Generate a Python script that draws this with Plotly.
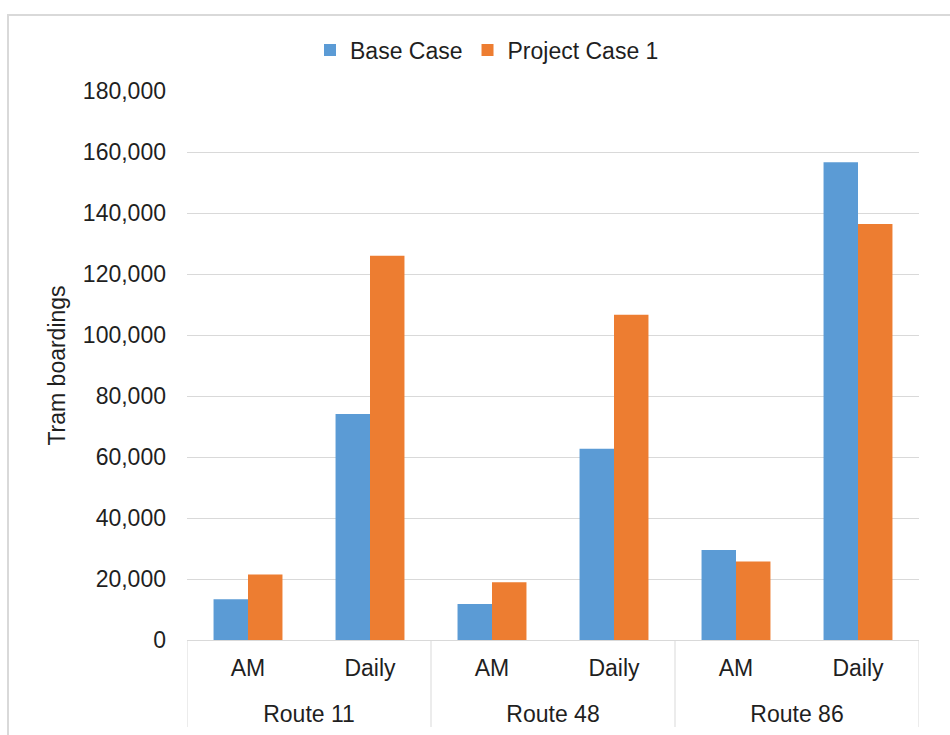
import plotly.graph_objects as go

# Tram boardings by route and time period
routes = ["Route 11", "Route 11", "Route 48", "Route 48", "Route 86", "Route 86"]
periods = ["AM", "Daily", "AM", "Daily", "AM", "Daily"]
base_case = [13400, 74100, 11800, 62700, 29500, 156600]
project_case_1 = [21500, 126000, 18900, 106600, 25700, 136400]

y_ticks = [0, 20000, 40000, 60000, 80000, 100000, 120000, 140000, 160000, 180000]

BLUE = "#5B9BD5"
ORANGE = "#ED7D31"
GRID = "#D9D9D9"
TEXT = "#1F1F1F"
FONT = "Liberation Sans, Arial, sans-serif"
FS = 23

# One slot per (route, period) pair; routes are grouped in consecutive slots
pos = list(range(len(periods)))
group_names = []
group_slots = []
for i, r in enumerate(routes):
    if not group_names or group_names[-1] != r:
        group_names.append(r)
        group_slots.append([])
    group_slots[-1].append(i)
group_centers = [sum(s) / len(s) for s in group_slots]
boundaries = [group_slots[0][0] - 0.5] + [s[-1] + 0.5 for s in group_slots]
x_range = [pos[0] - 0.5, pos[-1] + 0.5]

fig = go.Figure()
fig.add_trace(go.Bar(name="Base Case", x=pos, y=base_case,
                     marker=dict(color=BLUE, line=dict(width=0))))
fig.add_trace(go.Bar(name="Project Case 1", x=pos, y=project_case_1,
                     marker=dict(color=ORANGE, line=dict(width=0))))
# invisible trace that carries the route-level axis
fig.add_trace(go.Scatter(x=group_centers, y=[0] * len(group_centers), xaxis="x2",
                         mode="markers", showlegend=False, hoverinfo="skip",
                         marker=dict(opacity=0)))

fig.update_layout(
    width=950, height=735,
    margin=dict(l=187, r=31, t=91, b=95),
    paper_bgcolor="white", plot_bgcolor="white",
    font=dict(family=FONT, size=FS, color=TEXT),
    barmode="group", bargap=0.435, bargroupgap=0,
    legend=dict(orientation="h", x=310 / 950, xanchor="left", xref="container",
                y=1 - 50 / 735, yanchor="middle", yref="container",
                font=dict(size=FS, color=TEXT), traceorder="normal"),
    xaxis=dict(range=x_range, tickvals=pos, ticktext=periods,
               showline=True, linecolor=GRID, linewidth=1,
               showgrid=False, zeroline=False, ticks="", automargin=False,
               ticklabelstandoff=7,
               tickfont=dict(size=FS, family=FONT, color=TEXT)),
    xaxis2=dict(range=x_range, overlaying="x", side="bottom",
                tickvals=group_centers, ticktext=group_names,
                showline=False, showgrid=False, zeroline=False, ticks="",
                automargin=False, ticklabelstandoff=58,
                tickfont=dict(size=FS, family=FONT, color=TEXT)),
    yaxis=dict(range=[0, 180000], tickvals=y_ticks, tickformat=",d",
               showgrid=True, gridcolor=GRID, gridwidth=1, zeroline=False,
               showline=False, ticks="", ticklabelstandoff=20, automargin=False,
               tickfont=dict(size=FS, family=FONT, color=TEXT),
               title=dict(text="Tram boardings", standoff=10,
                          font=dict(size=FS, family=FONT, color=TEXT))),
)

# Group dividers below the category axis
for b in boundaries:
    fig.add_shape(type="line", xref="x", yref="paper",
                  x0=b, x1=b, y0=-87 / 549, y1=0,
                  line=dict(color=GRID, width=1))

# Light frame around the chart area
fig.add_shape(type="rect", xref="paper", yref="paper",
              x0=(8 - 187) / 732, x1=(955 - 187) / 732,
              y0=(640 - 740) / 549, y1=(640 - 15) / 549,
              line=dict(color=GRID, width=2), fillcolor="rgba(0,0,0,0)",
              layer="below")

fig.write_html("out.html")
